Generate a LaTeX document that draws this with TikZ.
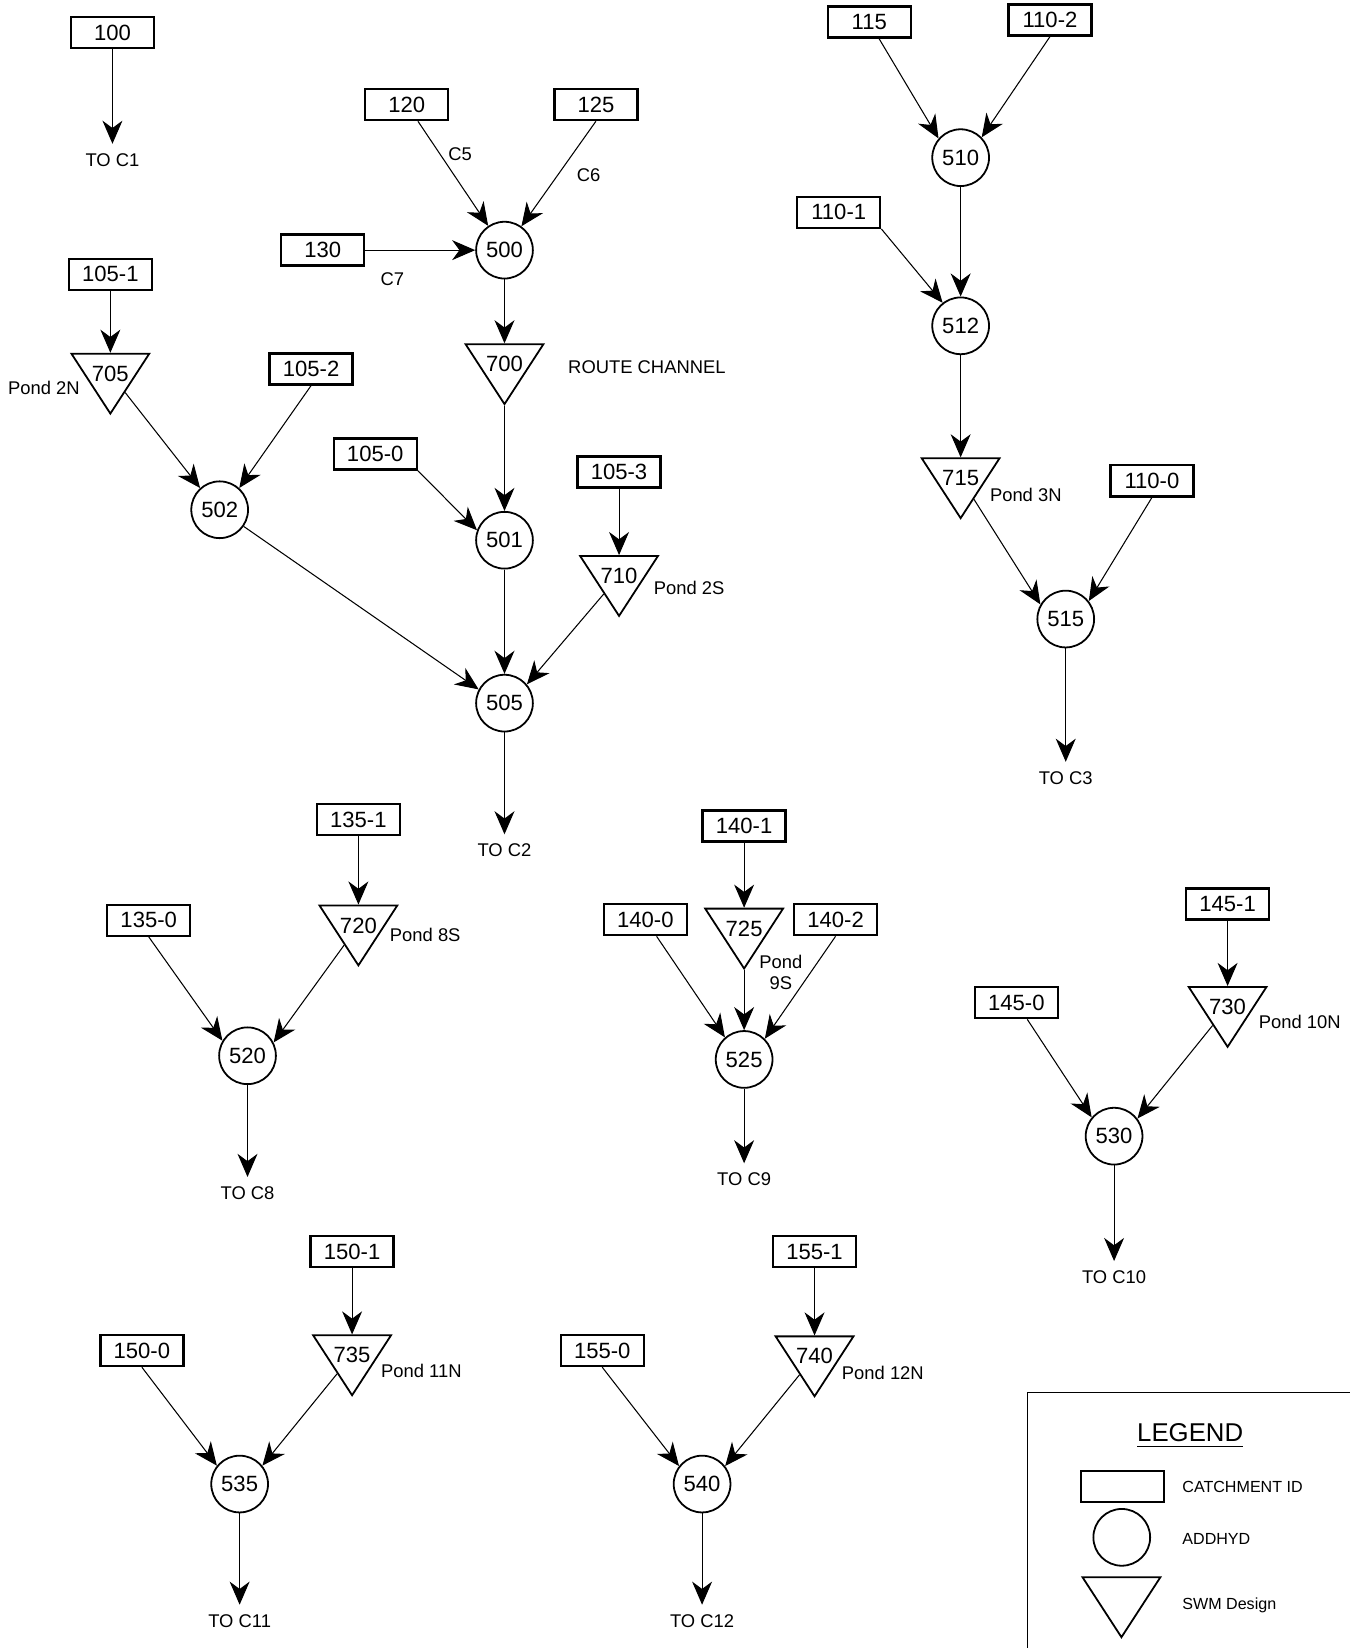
\documentclass[tikz,border=0pt]{standalone}
\usepackage{fontspec}
\setmainfont{Liberation Sans}
\usepackage{graphicx}
\usetikzlibrary{shapes.geometric,arrows.meta}
\newcommand\numfnt{\fontsize{21}{25}\selectfont}
\newcommand\lblfnt{\fontsize{17.5}{19.5}\selectfont}
\newcommand\legfnt{\fontsize{15.3}{18}\selectfont}
\newcommand\legtfnt{\fontsize{24.5}{29}\selectfont}
\begin{document}
\begin{tikzpicture}[x=1pt,y=-1pt,
  conn/.style={line width=1pt,-{Stealth[length=22pt,width=19pt,inset=7pt]}},
  box/.style={draw,line width=2.2pt,minimum width=79pt,minimum height=29.5pt,inner sep=0pt,font=\numfnt},
  junc/.style={draw,circle,line width=1.7pt,minimum size=54pt,inner sep=0pt,font=\numfnt},
  pond/.style={draw,regular polygon,regular polygon sides=3,shape border rotate=180,minimum size=76pt,inner sep=0pt,line width=1.7pt,xscale=1.125,transform shape},
  num/.style={font=\numfnt,inner sep=0pt},
  lbl/.style={font=\lblfnt,inner sep=0pt},
  outlbl/.style={lbl,outer sep=9pt},
  leg/.style={font=\legfnt,inner sep=0pt,anchor=west}]
\useasboundingbox (0,0) rectangle (1284,1568);

% catchment boxes
\node[box] (b100) at (107,31) {100};
\node[box] (b120) at (387,99.5) {120};
\node[box] (b125) at (567,99.5) {125};
\node[box] (b130) at (307,238) {130};
\node[box] (b1051) at (105,261) {105-1};
\node[box] (b1052) at (296,351) {105-2};
\node[box] (b1050) at (357,432) {105-0};
\node[box] (b1053) at (589,449) {105-3};
\node[box] (b115) at (827,21) {115};
\node[box] (b1102) at (999,19) {110-2};
\node[box] (b1101) at (798,202) {110-1};
\node[box] (b1100) at (1096,457.5) {110-0};
\node[box] (b1351) at (341,780) {135-1};
\node[box] (b1350) at (141.5,875.5) {135-0};
\node[box] (b1401) at (708,786) {140-1};
\node[box] (b1400) at (614,875) {140-0};
\node[box] (b1402) at (795,875) {140-2};
\node[box] (b1451) at (1168,860) {145-1};
\node[box] (b1450) at (967,954) {145-0};
\node[box] (b1501) at (335,1191) {150-1};
\node[box] (b1500) at (135,1285) {150-0};
\node[box] (b1551) at (775,1191) {155-1};
\node[box] (b1550) at (573,1285) {155-0};

% ADDHYD junctions
\node[junc] (n500) at (480,238) {500};
\node[junc] (n502) at (209,485) {502};
\node[junc] (n501) at (480,514) {501};
\node[junc] (n505) at (480,669) {505};
\node[junc] (n510) at (914,150) {510};
\node[junc] (n512) at (914,310) {512};
\node[junc] (n515) at (1014,589) {515};
\node[junc] (n520) at (235.5,1004.5) {520};
\node[junc] (n525) at (708,1008) {525};
\node[junc] (n530) at (1060,1081) {530};
\node[junc] (n535) at (228,1412) {535};
\node[junc] (n540) at (668,1412) {540};

% SWM design triangles
\foreach \n/\x/\y in {705/105/355.5,700/480/346.5,710/589/548,715/914/455,720/341/880.5,725/708/883.5,730/1168/958,735/335/1289.5,740/775/1290.5}{
  \node[pond] (t\n) at (\x,\y) {};
  \node[num] (t\n l) at (t\n) {\n};
}

% labels
\node[outlbl] (toc1) at (107,152) {TO C1};
\node[outlbl] (toc2) at (480,809) {TO C2};
\node[outlbl] (toc3) at (1014,740) {TO C3};
\node[outlbl] (toc8) at (235.5,1135) {TO C8};
\node[outlbl] (toc9) at (708,1122) {TO C9};
\node[outlbl] (toc10) at (1060,1215) {TO C10};
\node[outlbl] (toc11) at (228,1542) {TO C11};
\node[outlbl] (toc12) at (668,1542) {TO C12};
\node[lbl] (c5) at (437.8,146.6) {C5};
\node[lbl] (c6) at (560,166.6) {C6};
\node[lbl] (c7) at (373.4,265.9) {C7};
\node[lbl] (route) at (615.5,349) {ROUTE CHANNEL};
\node[lbl] (p2n) at (41.7,368.7) {Pond 2N};
\node[lbl] (p2s) at (655.7,559) {Pond 2S};
\node[lbl] (p3n) at (976,471) {Pond 3N};
\node[lbl] (p8s) at (404.6,890) {Pond 8S};
\node[lbl,align=center] (p9s) at (743,925) {Pond\\9S};
\node[lbl] (p10n) at (1236.6,972.5) {Pond 10N};
\node[lbl] (p11n) at (400.9,1304.7) {Pond 11N};
\node[lbl] (p12n) at (840,1306.6) {Pond 12N};

% connectors
\foreach \a/\b in {b100/toc1,b120/n500,b125.south/n500,b130/n500,n500/t700,
  b1051/t705,t705/n502.132,b1052.south/n502.48,b1050.south east/n501.160,t700/n501,b1053/t710,
  n501/n505,t710/n505.40,n502/n505.152,n505/toc2,
  b115/n510.139,b1102.south/n510.44,n510/n512,b1101.south east/n512.128,n512/t715,t715/n515.150,b1100.south/n515.38,n515/toc3,
  b1351/t720,b1350.south/n520.149,t720/n520.27,n520/toc8,
  b1401/t725,b1400/n525.131,t725/n525,b1402.south/n525.45,n525/toc9,
  b1451/t730,b1450/n530.140,t730/n530.37,n530/toc10,
  b1501/t735,b1500.south/n535.141,t735/n535.39,n535/toc11,
  b1551/t740,b1550.south/n540.142,t740/n540.38,n540/toc12}
  \draw[conn] (\a) -- (\b);

% legend
\draw[line width=1pt] (978,1590) -- (978,1325) -- (1300,1325) -- (1300,1590);
\node[font=\legtfnt,inner sep=0pt] (legt) at (1132.4,1362.7) {LEGEND};
\draw[line width=1pt] ([yshift=-5pt]legt.south west) -- ([yshift=-5pt]legt.south east);
\node[box,minimum width=79pt,minimum height=30pt] (lrect) at (1067.7,1414.3) {};
\node[junc] (lcirc) at (1067.3,1462.7) {};
\node[pond] (ltri) at (1067,1519.7) {};
\node[leg] (lcat) at (1124.8,1414.4) {CATCHMENT ID};
\node[leg] (ladd) at (1124.8,1464.3) {ADDHYD};
\node[leg] (lswm) at (1124.8,1527.7) {SWM Design};
\end{tikzpicture}
\end{document}
